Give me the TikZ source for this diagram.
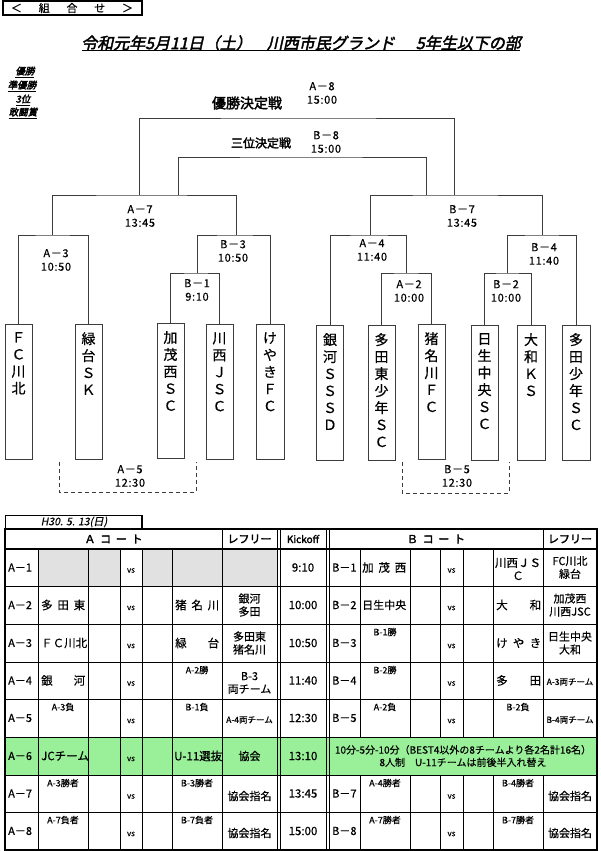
\documentclass[tikz,border=0pt]{standalone}
\usepackage{fontspec}
\setmainfont{Noto Sans CJK JP}[FakeBold=0.4,
  BoldFont={Noto Sans CJK JP}, BoldFeatures={FakeBold=2.5},
  ItalicFont={Noto Sans CJK JP}, ItalicFeatures={FakeSlant=0.2},
  BoldItalicFont={Noto Sans CJK JP}, BoldItalicFeatures={FakeBold=2.5,FakeSlant=0.22}]
\newfontfamily\spc{Noto Sans CJK JP}[LetterSpace=6, FakeBold=0.4]
\definecolor{grn}{RGB}{153,240,153}
\definecolor{gry}{RGB}{225,225,225}
\definecolor{ln}{RGB}{60,60,60}
\newcommand\jus[2]{\makebox[#1pt][s]{#2}}
\begin{document}
\begin{tikzpicture}[x=1pt,y=-1pt,
 lab/.style={font=\spc\fontsize{11}{13.5}\selectfont,align=center,inner sep=0pt},
 teambox/.style={draw=ln,line width=1pt,minimum width=27pt,minimum height=135pt,anchor=north,inner sep=0pt},
 teamtxt/.style={font=\fontsize{14}{17}\selectfont,align=center,anchor=north,inner sep=0pt},
 brk/.style={draw=ln,line width=1pt},
 dsh/.style={draw=ln,line width=1pt,dash pattern=on 4pt off 3pt},
 tl/.style={line width=0.7pt},
 tt/.style={font=\fontsize{11}{13}\selectfont,align=center,inner sep=0pt},
 nm/.style={font=\fontsize{11.5}{13}\selectfont,anchor=west,inner sep=0pt},
 sm/.style={font=\fontsize{9}{10}\selectfont,inner sep=0pt},
 vs/.style={font=\fontsize{8}{9}\selectfont,inner sep=0pt},
 prize/.style={font=\bfseries\itshape\fontsize{9.5}{11}\selectfont,inner sep=0pt},
 hd/.style={font=\bfseries\fontsize{11}{13}\selectfont,inner sep=0pt}]
\useasboundingbox (0,0) rectangle (600,851);
\fill[white] (0,0) rectangle (600,851);

% header box
\draw[line width=1.5pt] (3,1) rectangle (142,15);
\node[font=\fontsize{11}{13}\selectfont,inner sep=0pt] (hdr) at (72,8) {\jus{122}{＜\hfil 組\hfil 合\hfil せ\hfil ＞}};

% title
\node[font=\bfseries\itshape\fontsize{16}{18}\selectfont,inner sep=0pt] (title) at (301,43) {令和元年5月11日（土）\hspace{15pt}川西市民グランド\hspace{21pt}5年生以下の部};
\draw[line width=1pt] (82,51) -- (520,51);

% prize labels
\node[prize] (p1) at (25,72) {\underline{優勝}};
\node[prize] (p2) at (22,86) {\underline{準優勝}};
\node[prize] (p3) at (23,100) {\underline{3位}};
\node[prize] (p4) at (23,113) {\underline{敢闘賞}};

\node[font=\bfseries\fontsize{14}{16}\selectfont,inner sep=0pt] (fint) at (247,103) {優勝決定戦};
\node[font=\bfseries\fontsize{12}{14}\selectfont,inner sep=0pt] (thirdt) at (261,143) {三位決定戦};

% team boxes
\node[teambox] (fc) at (18.5,324) {};
\node[teambox] (midori) at (88.5,324) {};
\node[teambox] (kamo) at (170.5,323) {};
\node[teambox] (kawanishi) at (219.5,324) {};
\node[teambox,minimum width=28pt] (keyaki) at (270,324) {};
\node[teambox] (ginga) at (330,325) {};
\node[teambox] (tadahigashi) at (381.5,325) {};
\node[teambox] (inagawa) at (431.5,324) {};
\node[teambox] (nissei) at (484.5,325) {};
\node[teambox,minimum width=28pt] (yamato) at (531,325) {};
\node[teambox,minimum width=28pt] (tadashonen) at (576,325) {};

\node[teamtxt] (fct) at ([yshift=-8pt]fc.north) {Ｆ\\Ｃ\\川\\北};
\node[teamtxt] (midorit) at ([yshift=-8pt]midori.north) {緑\\台\\Ｓ\\Ｋ};
\node[teamtxt] (kamot) at ([yshift=-8pt]kamo.north) {加\\茂\\西\\Ｓ\\Ｃ};
\node[teamtxt] (kawanishit) at ([yshift=-8pt]kawanishi.north) {川\\西\\Ｊ\\Ｓ\\Ｃ};
\node[teamtxt] (keyakit) at ([yshift=-8pt]keyaki.north) {け\\や\\き\\Ｆ\\Ｃ};
\node[teamtxt] (gingat) at ([yshift=-8pt]ginga.north) {銀\\河\\Ｓ\\Ｓ\\Ｓ\\Ｄ};
\node[teamtxt] (tadahigashit) at ([yshift=-8pt]tadahigashi.north) {多\\田\\東\\少\\年\\Ｓ\\Ｃ};
\node[teamtxt] (inagawat) at ([yshift=-8pt]inagawa.north) {猪\\名\\川\\Ｆ\\Ｃ};
\node[teamtxt] (nisseit) at ([yshift=-8pt]nissei.north) {日\\生\\中\\央\\Ｓ\\Ｃ};
\node[teamtxt] (yamatot) at ([yshift=-8pt]yamato.north) {大\\和\\Ｋ\\Ｓ};
\node[teamtxt] (tadashonent) at ([yshift=-8pt]tadashonen.north) {多\\田\\少\\年\\Ｓ\\Ｃ};

% bracket junctions
\coordinate (mB1) at (197,273);
\coordinate (mA3) at (52,235);
\coordinate (mB3) at (236,235);
\coordinate (mA7) at (139,195);
\coordinate (tA7) at (178,195);
\coordinate (mA2) at (406,273);
\coordinate (mA4) at (370,235);
\coordinate (mB2) at (507,273);
\coordinate (mB4) at (542,235);
\coordinate (mB7) at (454,195);
\coordinate (tB7) at (426,195);
\coordinate (fin) at (300,118);
\coordinate (thd) at (300,157);

\draw[brk] (kamo.north) |- (mB1) -| (kawanishi.north);
\draw[brk] (fc.north) |- (mA3) -| (midori.north);
\draw[brk] (mB1) |- (mB3) -| (keyaki.north);
\draw[brk] (mA3) |- (mA7) -| (mB3);
\draw[brk] (tadahigashi.north) |- (mA2) -| (inagawa.north);
\draw[brk] (ginga.north) |- (mA4) -| (mA2);
\draw[brk] (nissei.north) |- (mB2) -| (yamato.north);
\draw[brk] (mB2) |- (mB4) -| (tadashonen.north);
\draw[brk] (mA4) |- (mB7) -| (mB4);
\draw[brk] (mA7) |- (fin) -| (mB7);
\draw[brk] (tA7) |- (thd) -| (tB7);

% match labels
\node[lab] (lA8) at (322,93) {A－8\\15:00};
\node[lab] (lB8) at (326,142) {B－8\\15:00};
\node[lab] (lA7) at (140,216) {A－7\\13:45};
\node[lab] (lB7) at (462,216) {B－7\\13:45};
\node[lab] (lA3) at (56,260) {A－3\\10:50};
\node[lab] (lB3) at (233,251) {B－3\\10:50};
\node[lab] (lB1) at (197,290) {B－1\\9:10};
\node[lab] (lA4) at (372,250) {A－4\\11:40};
\node[lab] (lA2) at (409,291) {A－2\\10:00};
\node[lab] (lB4) at (544,254) {B－4\\11:40};
\node[lab] (lB2) at (506,291) {B－2\\10:00};

% dashed brackets
\coordinate (a5a) at (59,462); \coordinate (a5b) at (59,492);
\coordinate (a5c) at (196,492); \coordinate (a5d) at (196,462);
\draw[dsh] (a5a) -- (a5b) -- (a5c) -- (a5d);
\node[lab] (lA5) at (130,476) {A－5\\12:30};
\coordinate (b5a) at (402,462); \coordinate (b5b) at (402,493);
\coordinate (b5c) at (509,493); \coordinate (b5d) at (509,462);
\draw[dsh] (b5a) -- (b5b) -- (b5c) -- (b5d);
\node[lab] (lB5) at (457,476) {B－5\\12:30};

% ===== table =====
\draw[line width=1pt] (5,515) rectangle (142,529);
\draw[line width=1.6pt] (142,515) -- (142,529);
\node[font=\itshape\fontsize{10.5}{12}\selectfont,inner sep=0pt] (date) at (74,522) {H30. 5. 13(日)};

% fills
\fill[gry] (38,586) rectangle (120,549);
\fill[gry] (142,586) rectangle (277,549);
\fill[grn] (5,737) rectangle (597,775);

% lines
\foreach \x in {38,88,120,142,172} \draw[tl] (\x,549) -- (\x,850);
\foreach \x in {222,277,280,326,329} \draw[tl] (\x,529) -- (\x,850);
\foreach \x in {360,410,440,463,493} {\draw[tl] (\x,549) -- (\x,737); \draw[tl] (\x,775) -- (\x,850);}
\draw[tl] (543,529) -- (543,737); \draw[tl] (543,775) -- (543,850);
\foreach \y in {586,624,662,699,737,775,812} \draw[tl] (5,\y) -- (597,\y);
\draw[line width=1.6pt] (5,549) -- (597,549);
\draw[line width=1.5pt] (5,529) rectangle (597,850);

% header row
\node[hd] (hA) at (113.5,539) {\jus{58}{Ａ\hfil コ\hfil ー\hfil ト}};
\node[hd] (hRA) at (249.5,539) {レフリー};
\node[font=\bfseries\fontsize{10}{12}\selectfont,inner sep=0pt] (hK) at (303,539) {Kickoff};
\node[hd] (hB) at (436,539) {\jus{58}{Ｂ\hfil コ\hfil ー\hfil ト}};
\node[hd] (hRB) at (570,539) {レフリー};

% row labels, times, vs
\foreach \i/\y/\t in {1/567.5/9:10,2/605/10:00,3/643/10:50,4/680.5/11:40,5/718/12:30,6/756/13:10,7/793.5/13:45,8/831/15:00}{
  \node[tt,anchor=west] (ra\i) at (8,\y) {A－\i};
  \node[font=\fontsize{11.5}{13}\selectfont,inner sep=0pt] (ko\i) at (303,\y) {\t};
  \node[vs] (vsa\i) at (131,\y+3) {vs};
}
\foreach \i/\y in {1/567.5,2/605,3/643,4/680.5,5/718,7/793.5,8/831}{
  \node[tt,anchor=west] (rb\i) at (332,\y) {B－\i};
  \node[vs] (vsb\i) at (451.5,\y+3) {vs};
}

% A names
\node[nm] (a2n1) at (41,605) {\jus{44}{多\hfil 田\hfil 東}};
\node[nm] (a3n1) at (41,643) {\jus{44}{Ｆ\hfil Ｃ\hfil 川\hfil 北}};
\node[nm] (a4n1) at (41,680.5) {\jus{44}{銀\hfil 河}};
\node[nm] (a6n1) at (41,756) {JCチーム};
\node[nm] (a2n2) at (175,605) {\jus{44}{猪\hfil 名\hfil 川}};
\node[nm] (a3n2) at (175,643) {\jus{44}{緑\hfil 台}};
\node[nm] (a6n2) at (174,756) {U-11選抜};
\node[sm] (a5s1) at (63,707) {A-3負};
\node[sm] (a7s1) at (63,783) {A-3勝者};
\node[sm] (a8s1) at (63,820) {A-7負者};
\node[sm] (a4s2) at (197,670) {A-2勝};
\node[sm] (a5s2) at (197,707) {B-1負};
\node[sm] (a7s2) at (197,783) {B-3勝者};
\node[sm] (a8s2) at (197,820) {B-7負者};

% A referees
\node[tt] (a2r) at (249.5,605) {銀河\\多田};
\node[tt] (a3r) at (249.5,643) {多田東\\猪名川};
\node[tt] (a4r) at (249.5,683) {B-3\\両チーム};
\node[font=\fontsize{8.5}{10}\selectfont,inner sep=0pt] (a5r) at (249.5,720) {A-4両チーム};
\node[tt] (a6r) at (249.5,756) {協会};
\node[tt] (a7r) at (249.5,796) {協会指名};
\node[tt] (a8r) at (249.5,833) {協会指名};

% B names
\node[nm] (b1n1) at (362,567.5) {\jus{44}{加\hfil 茂\hfil 西}};
\node[nm,font=\fontsize{11}{13}\selectfont] (b2n1) at (362,605) {日生中央};
\node[sm] (b3s1) at (385,632) {B-1勝};
\node[sm] (b4s1) at (385,670) {B-2勝};
\node[sm] (b5s1) at (385,707) {A-2負};
\node[sm] (b7s1) at (385,783) {A-4勝者};
\node[sm] (b8s1) at (385,820) {A-7勝者};
\node[tt,font=\fontsize{11.5}{13}\selectfont] (b1n2) at (518,569) {\jus{46}{川\hfil 西\hfil Ｊ\hfil Ｓ}\\Ｃ};
\node[nm] (b2n2) at (496,605) {\jus{45}{大\hfil 和}};
\node[nm] (b3n2) at (496,643) {\jus{45}{け\hfil や\hfil き}};
\node[nm] (b4n2) at (496,680.5) {\jus{45}{多\hfil 田}};
\node[sm] (b5s2) at (518,707) {B-2負};
\node[sm] (b7s2) at (518,783) {B-4勝者};
\node[sm] (b8s2) at (518,820) {B-7勝者};

% B referees
\node[tt] (b1r) at (570,567.5) {FC川北\\緑台};
\node[tt] (b2r) at (570,605) {加茂西\\川西JSC};
\node[tt] (b3r) at (570,643) {日生中央\\大和};
\node[font=\fontsize{8.5}{10}\selectfont,inner sep=0pt] (b4r) at (570,682) {A-3両チーム};
\node[font=\fontsize{8.5}{10}\selectfont,inner sep=0pt] (b5r) at (570,720) {B-4両チーム};
\node[tt] (b7r) at (570,796) {協会指名};
\node[tt] (b8r) at (570,833) {協会指名};

% green merged text
\node[font=\fontsize{10}{12.5}\selectfont,align=center,inner sep=0pt] (gtxt) at (463,756) {10分-5分-10分（BEST4以外の8チームより各2名計16名）\\8人制\hspace{1em}U-11チームは前後半入れ替え};

\end{tikzpicture}
\end{document}
